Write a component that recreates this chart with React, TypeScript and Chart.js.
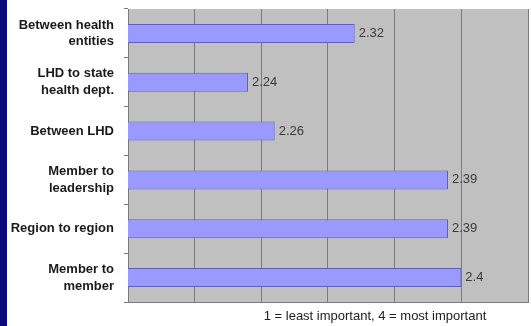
import React, { useEffect, useRef } from "react";
import { Chart, registerables } from "chart.js";

Chart.register(...registerables);

const categories: (string | string[])[] = [
  ["Between health", "entities"],
  ["LHD to state", "health dept."],
  "Between LHD",
  ["Member to", "leadership"],
  "Region to region",
  ["Member to", "member"],
];
const values: number[] = [2.32, 2.24, 2.26, 2.39, 2.39, 2.4];
const axisMin = 2.15;
const axisMax = 2.45;
const axisStep = 0.05;
const footnote = "1 = least important, 4 = most important";

const FONT = "'Liberation Sans', Arial, sans-serif";

const plotBg = {
  id: "plotBg",
  beforeDraw(chart: any) {
    const { ctx, chartArea } = chart;
    ctx.save();
    ctx.fillStyle = "#c0c0c0";
    ctx.fillRect(chartArea.left, chartArea.top, chartArea.right - chartArea.left, chartArea.bottom - chartArea.top);
    ctx.restore();
  },
};

const valueLabels = {
  id: "valueLabels",
  afterDatasetsDraw(chart: any) {
    const { ctx } = chart;
    const meta = chart.getDatasetMeta(0);
    ctx.save();
    ctx.font = `13px ${FONT}`;
    ctx.fillStyle = "#3a3a3a";
    ctx.textAlign = "left";
    ctx.textBaseline = "middle";
    meta.data.forEach((el: any, i: number) => {
      ctx.fillText(String(values[i]), el.x + 4, el.y);
    });
    ctx.restore();
  },
};

const footer = {
  id: "footer",
  afterDraw(chart: any) {
    const { ctx, chartArea } = chart;
    ctx.save();
    ctx.font = `13px ${FONT}`;
    ctx.fillStyle = "#222";
    ctx.textAlign = "center";
    ctx.textBaseline = "middle";
    const cx = chartArea.left + (chartArea.right - chartArea.left) * 0.6175;
    ctx.fillText(footnote, cx, chartArea.bottom + 14);
    ctx.restore();
  },
};

export default function App() {
  const ref = useRef<HTMLCanvasElement>(null);
  useEffect(() => {
    document.body.style.margin = "0";
    const chart = new Chart(ref.current!, {
      type: "bar",
      data: {
        labels: categories,
        datasets: [
          {
            data: values,
            backgroundColor: "#9999ff",
            borderColor: "#5f5fb5",
            borderWidth: 1,
            borderSkipped: false,
            categoryPercentage: 1,
            barPercentage: 0.39,
          },
        ],
      },
      options: {
        indexAxis: "y",
        animation: false,
        responsive: false,
        maintainAspectRatio: false,
        layout: { padding: { top: 9, right: 3, bottom: 24, left: 0 } },
        plugins: { legend: { display: false }, tooltip: { enabled: false }, title: { display: false } },
        scales: {
          x: {
            min: axisMin,
            max: axisMax,
            ticks: { display: false, stepSize: axisStep },
            grid: { color: "#7a7a7a", lineWidth: 1, drawTicks: false },
            border: { display: true, color: "#7a7a7a" },
            afterFit(scale: any) {
              scale.height = 0;
              scale.paddingLeft = 0;
              scale.paddingRight = 0;
            },
          },
          y: {
            ticks: {
              color: "#1a1a1a",
              font: { family: FONT, size: 13, weight: "bold", lineHeight: 1.3 },
              padding: 10,
            },
            grid: { drawOnChartArea: false, drawTicks: true, tickLength: 4, color: "#7a7a7a", offset: true },
            border: { display: true, color: "#7a7a7a" },
            afterFit(scale: any) {
              scale.width = 128;
              scale.paddingTop = 0;
              scale.paddingBottom = 0;
            },
          },
        },
      },
      plugins: [plotBg, valueLabels, footer],
    });
    return () => chart.destroy();
  }, []);
  return (
    <div style={{ position: "relative", width: 531, height: 326, background: "#ffffff" }}>
      <canvas ref={ref} width={531} height={326} style={{ display: "block" }} />
      <div style={{ position: "absolute", left: 0, top: 0, width: 7, height: 326, background: "#0b0b7a" }} />
    </div>
  );
}
